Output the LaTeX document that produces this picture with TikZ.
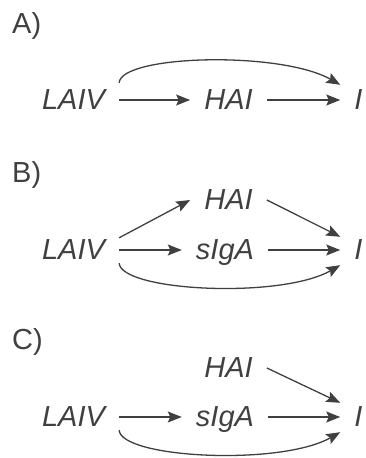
\documentclass[tikz,border=0pt]{standalone}
\usepackage{fontspec}
\setmainfont{Liberation Sans}
\usetikzlibrary{arrows.meta}
\definecolor{ink}{HTML}{404040}
\begin{document}
\begin{tikzpicture}[x=1pt,y=1pt,
  var/.style={text=ink, font=\fontsize{29}{34}\selectfont\itshape, anchor=base,
    inner xsep=14pt, inner ysep=0pt, text height=20pt, text depth=0pt},
  panel/.style={text=ink, font=\fontsize{29}{34}\selectfont, anchor=base west, inner sep=0pt},
  link/.style={draw=ink, line width=1.3pt, -{Stealth[length=14pt,width=11pt,inset=2.5pt]}}]
\useasboundingbox (0,0) rectangle (365,458);

% Panel A
\node[panel] (la) at (12,424) {A)};
\node[var] (aL) at (73.5,348) {LAIV};
\node[var] (aH) at (228.5,348) {HAI};
\node[var] (aI) at (358.5,348) {I};
\draw[link] (aL) -- (aH);
\draw[link] (aH) -- (aI);
\draw[link] ([yshift=7pt]aL.north east) .. controls +(2,28) and +(-60,34) .. ([yshift=5pt]aI.north west);

% Panel B
\node[panel] (lb) at (12,275) {B)};
\node[var] (bH) at (228.5,248) {HAI};
\node[var] (bL) at (73.5,198) {LAIV};
\node[var] (bS) at (225,198) {sIgA};
\node[var] (bI) at (358.5,198) {I};
\draw[link] ([yshift=2pt]bL.north east) -- (bH.west);
\draw[link] (bH.east) -- ([yshift=3pt]bI.north west);
\draw[link] (bL) -- (bS);
\draw[link] (bS) -- (bI);
\draw[link] ([yshift=-3pt]bL.south east) .. controls +(2,-28) and +(-60,-34) .. ([yshift=-5pt]bI.south west);

% Panel C
\node[panel] (lc) at (12,108) {C)};
\node[var] (cH) at (228.5,80) {HAI};
\node[var] (cL) at (73.5,31) {LAIV};
\node[var] (cS) at (225,31) {sIgA};
\node[var] (cI) at (358.5,31) {I};
\draw[link] (cH.east) -- ([yshift=4pt]cI.north west);
\draw[link] (cL) -- (cS);
\draw[link] (cS) -- (cI);
\draw[link] ([yshift=-3pt]cL.south east) .. controls +(2,-28) and +(-60,-34) .. ([yshift=-5pt]cI.south west);
\end{tikzpicture}
\end{document}
